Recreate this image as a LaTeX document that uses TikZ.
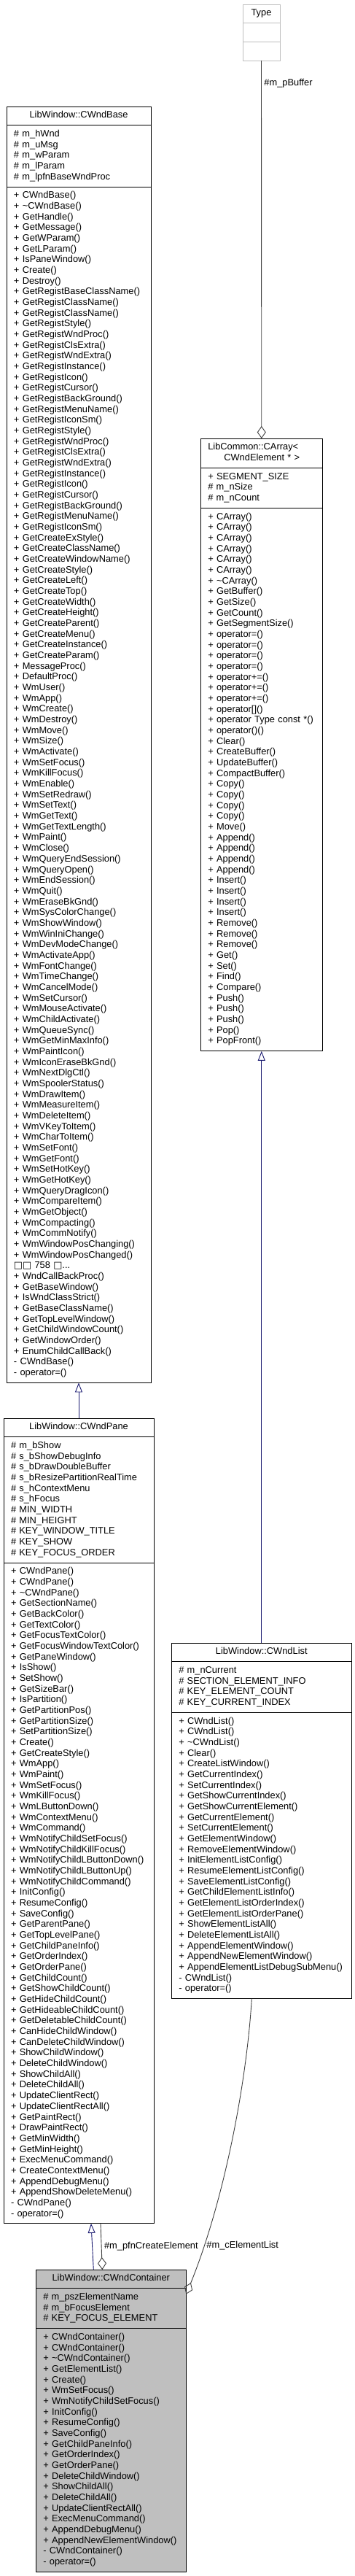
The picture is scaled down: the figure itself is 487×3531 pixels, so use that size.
\documentclass[tikz,border=0pt]{standalone}
\usepackage{fontspec}
\setmainfont{Liberation Sans}
\newfontfamily\boxfont{DejaVu Sans}
\usetikzlibrary{arrows.meta, positioning, bending}
\definecolor{midnight}{RGB}{25,25,112}
\definecolor{edgegray}{RGB}{64,64,64}
\definecolor{boxgray}{RGB}{191,191,191}
\newcommand{\umlfont}{\fontsize{12.85}{14.67}\selectfont}
\setlength{\parindent}{0pt}
\tikzset{
	clshead/.style={draw, line width=.9pt, outer sep=0pt, inner xsep=10pt, inner ysep=5.5pt,
		font=\umlfont, align=center, execute at begin node=\strut, execute at end node=\strut},
	clsbody/.style={clshead, align=left},
	inherit/.style={draw=midnight, line width=.9pt, -{Triangle[open, length=13pt, width=10pt]}},
	member/.style={draw=edgegray, line width=.9pt, -{Diamond[open, length=17pt, width=12pt]}},
	lbl/.style={font=\umlfont, inner sep=1.5pt}
}
\begin{document}
\begin{tikzpicture}[x=1pt, y=1pt]
	\useasboundingbox (0,0) rectangle (487,-3531);

	\node[clshead, draw=boxgray, text width=31pt, anchor=north west] (typehead) at (333,-6) {Type};
	\node[clshead, draw=boxgray, text width=31pt, below=0pt of typehead] (typeattr) {};
	\node[clshead, draw=boxgray, text width=31pt, below=0pt of typeattr] (typeops) {};

	\node[clsbody, text width=147pt, anchor=north west] (arrhead) at (275.3,-601) {LibCommon::CArray<\\\hspace*{22pt}CWndElement *~>};
	\node[clsbody, text width=147pt, below=0pt of arrhead] (arrattr) {+~SEGMENT\_SIZE\\\#~m\_nSize\\\#~m\_nCount};
	\node[clsbody, text width=147pt, below=0pt of arrattr] (arrops) {+~CArray()\\+~CArray()\\+~CArray()\\+~CArray()\\+~CArray()\\+~CArray()\\
		+~\textasciitilde CArray()\\+~GetBuffer()\\+~GetSize()\\+~GetCount()\\+~GetSegmentSize()\\
		+~operator=()\\+~operator=()\\+~operator=()\\+~operator=()\\+~operator+=()\\+~operator+=()\\+~operator+=()\\
		+~operator[]()\\+~operator Type const *()\\+~operator()()\\+~Clear()\\+~CreateBuffer()\\+~UpdateBuffer()\\
		+~CompactBuffer()\\+~Copy()\\+~Copy()\\+~Copy()\\+~Copy()\\+~Move()\\+~Append()\\+~Append()\\+~Append()\\+~Append()\\
		+~Insert()\\+~Insert()\\+~Insert()\\+~Insert()\\+~Remove()\\+~Remove()\\+~Remove()\\+~Get()\\+~Set()\\+~Find()\\
		+~Compare()\\+~Push()\\+~Push()\\+~Push()\\+~Pop()\\+~PopFront()};

	\node[clshead, text width=178pt, anchor=north west] (basehead) at (9,-146) {LibWindow::CWndBase};
	\node[clsbody, text width=178pt, below=0pt of basehead] (baseattr) {\#~m\_hWnd\\\#~m\_uMsg\\\#~m\_wParam\\\#~m\_lParam\\\#~m\_lpfnBaseWndProc};
	\node[clsbody, text width=178pt, below=0pt of baseattr] (baseops) {+~CWndBase()\\+~\textasciitilde CWndBase()\\+~GetHandle()\\+~GetMessage()\\
		+~GetWParam()\\+~GetLParam()\\+~IsPaneWindow()\\+~Create()\\+~Destroy()\\+~GetRegistBaseClassName()\\
		+~GetRegistClassName()\\+~GetRegistClassName()\\+~GetRegistStyle()\\+~GetRegistWndProc()\\+~GetRegistClsExtra()\\
		+~GetRegistWndExtra()\\+~GetRegistInstance()\\+~GetRegistIcon()\\+~GetRegistCursor()\\+~GetRegistBackGround()\\
		+~GetRegistMenuName()\\+~GetRegistIconSm()\\+~GetRegistStyle()\\+~GetRegistWndProc()\\+~GetRegistClsExtra()\\
		+~GetRegistWndExtra()\\+~GetRegistInstance()\\+~GetRegistIcon()\\+~GetRegistCursor()\\+~GetRegistBackGround()\\
		+~GetRegistMenuName()\\+~GetRegistIconSm()\\+~GetCreateExStyle()\\+~GetCreateClassName()\\+~GetCreateWindowName()\\
		+~GetCreateStyle()\\+~GetCreateLeft()\\+~GetCreateTop()\\+~GetCreateWidth()\\+~GetCreateHeight()\\
		+~GetCreateParent()\\+~GetCreateMenu()\\+~GetCreateInstance()\\+~GetCreateParam()\\+~MessageProc()\\
		+~DefaultProc()\\+~WmUser()\\+~WmApp()\\+~WmCreate()\\+~WmDestroy()\\+~WmMove()\\+~WmSize()\\+~WmActivate()\\
		+~WmSetFocus()\\+~WmKillFocus()\\+~WmEnable()\\+~WmSetRedraw()\\+~WmSetText()\\+~WmGetText()\\
		+~WmGetTextLength()\\+~WmPaint()\\+~WmClose()\\+~WmQueryEndSession()\\+~WmQueryOpen()\\+~WmEndSession()\\
		+~WmQuit()\\+~WmEraseBkGnd()\\+~WmSysColorChange()\\+~WmShowWindow()\\+~WmWinIniChange()\\
		+~WmDevModeChange()\\+~WmActivateApp()\\+~WmFontChange()\\+~WmTimeChange()\\+~WmCancelMode()\\
		+~WmSetCursor()\\+~WmMouseActivate()\\+~WmChildActivate()\\+~WmQueueSync()\\+~WmGetMinMaxInfo()\\
		+~WmPaintIcon()\\+~WmIconEraseBkGnd()\\+~WmNextDlgCtl()\\+~WmSpoolerStatus()\\+~WmDrawItem()\\
		+~WmMeasureItem()\\+~WmDeleteItem()\\+~WmVKeyToItem()\\+~WmCharToItem()\\+~WmSetFont()\\+~WmGetFont()\\
		+~WmSetHotKey()\\+~WmGetHotKey()\\+~WmQueryDragIcon()\\+~WmCompareItem()\\+~WmGetObject()\\
		+~WmCompacting()\\+~WmCommNotify()\\+~WmWindowPosChanging()\\+~WmWindowPosChanged()\\
		{\boxfont □□}~758~{\boxfont □}...\\+~WndCallBackProc()\\+~GetBaseWindow()\\+~IsWndClassStrict()\\
		+~GetBaseClassName()\\+~GetTopLevelWindow()\\+~GetChildWindowCount()\\+~GetWindowOrder()\\
		+~EnumChildCallBack()\\-~CWndBase()\\-~operator=()};

	\node[clshead, text width=186pt, anchor=north west] (panehead) at (5,-1944) {LibWindow::CWndPane};
	\node[clsbody, text width=186pt, below=0pt of panehead] (paneattr) {\#~m\_bShow\\\#~s\_bShowDebugInfo\\\#~s\_bDrawDoubleBuffer\\
		\#~s\_bResizePartitionRealTime\\\#~s\_hContextMenu\\\#~s\_hFocus\\\#~MIN\_WIDTH\\\#~MIN\_HEIGHT\\
		\#~KEY\_WINDOW\_TITLE\\\#~KEY\_SHOW\\\#~KEY\_FOCUS\_ORDER};
	\node[clsbody, text width=186pt, below=0pt of paneattr] (paneops) {+~CWndPane()\\+~CWndPane()\\+~\textasciitilde CWndPane()\\
		+~GetSectionName()\\+~GetBackColor()\\+~GetTextColor()\\+~GetFocusTextColor()\\+~GetFocusWindowTextColor()\\
		+~GetPaneWindow()\\+~IsShow()\\+~SetShow()\\+~GetSizeBar()\\+~IsPartition()\\+~GetPartitionPos()\\
		+~GetPartitionSize()\\+~SetPartitionSize()\\+~Create()\\+~GetCreateStyle()\\+~WmApp()\\+~WmPaint()\\
		+~WmSetFocus()\\+~WmKillFocus()\\+~WmLButtonDown()\\+~WmContextMenu()\\+~WmCommand()\\
		+~WmNotifyChildSetFocus()\\+~WmNotifyChildKillFocus()\\+~WmNotifyChildLButtonDown()\\
		+~WmNotifyChildLButtonUp()\\+~WmNotifyChildCommand()\\+~InitConfig()\\+~ResumeConfig()\\+~SaveConfig()\\
		+~GetParentPane()\\+~GetTopLevelPane()\\+~GetChildPaneInfo()\\+~GetOrderIndex()\\+~GetOrderPane()\\
		+~GetChildCount()\\+~GetShowChildCount()\\+~GetHideChildCount()\\+~GetHideableChildCount()\\
		+~GetDeletableChildCount()\\+~CanHideChildWindow()\\+~CanDeleteChildWindow()\\+~ShowChildWindow()\\
		+~DeleteChildWindow()\\+~ShowChildAll()\\+~DeleteChildAll()\\+~UpdateClientRect()\\+~UpdateClientRectAll()\\
		+~GetPaintRect()\\+~DrawPaintRect()\\+~GetMinWidth()\\+~GetMinHeight()\\+~ExecMenuCommand()\\
		+~CreateContextMenu()\\+~AppendDebugMenu()\\+~AppendShowDeleteMenu()\\-~CWndPane()\\-~operator=()};

	\node[clshead, text width=227pt, anchor=north west] (listhead) at (235.3,-2252) {LibWindow::CWndList};
	\node[clsbody, text width=227pt, below=0pt of listhead] (listattr) {\#~m\_nCurrent\\\#~SECTION\_ELEMENT\_INFO\\
		\#~KEY\_ELEMENT\_COUNT\\\#~KEY\_CURRENT\_INDEX};
	\node[clsbody, text width=227pt, below=0pt of listattr] (listops) {+~CWndList()\\+~CWndList()\\+~\textasciitilde CWndList()\\
		+~Clear()\\+~CreateListWindow()\\+~GetCurrentIndex()\\+~SetCurrentIndex()\\+~GetShowCurrentIndex()\\
		+~GetShowCurrentElement()\\+~GetCurrentElement()\\+~SetCurrentElement()\\+~GetElementWindow()\\
		+~RemoveElementWindow()\\+~InitElementListConfig()\\+~ResumeElementListConfig()\\+~SaveElementListConfig()\\
		+~GetChildElementListInfo()\\+~GetElementListOrderIndex()\\+~GetElementListOrderPane()\\
		+~ShowElementListAll()\\+~DeleteElementListAll()\\+~AppendElementWindow()\\+~AppendNewElementWindow()\\
		+~AppendElementListDebugSubMenu()\\-~CWndList()\\-~operator=()};

	\node[clshead, fill=boxgray, text width=186pt, anchor=north west] (conthead) at (49.3,-3111) {LibWindow::CWndContainer};
	\node[clsbody, fill=boxgray, text width=186pt, below=0pt of conthead] (contattr) {\#~m\_pszElementName\\
		\#~m\_bFocusElement\\\#~KEY\_FOCUS\_ELEMENT};
	\node[clsbody, fill=boxgray, text width=186pt, below=0pt of contattr] (contops) {+~CWndContainer()\\+~CWndContainer()\\
		+~\textasciitilde CWndContainer()\\+~GetElementList()\\+~Create()\\+~WmSetFocus()\\+~WmNotifyChildSetFocus()\\
		+~InitConfig()\\+~ResumeConfig()\\+~SaveConfig()\\+~GetChildPaneInfo()\\+~GetOrderIndex()\\+~GetOrderPane()\\
		+~DeleteChildWindow()\\+~ShowChildAll()\\+~DeleteChildAll()\\+~UpdateClientRectAll()\\+~ExecMenuCommand()\\
		+~AppendDebugMenu()\\+~AppendNewElementWindow()\\-~CWndContainer()\\-~operator=()};

	\draw[member] (typeops.south) -- (arrhead.north) node[lbl, pos=0.06, right=2pt] {\#m\_pBuffer};
	\draw[inherit] (listhead.north) -- (arrops.south);
	\draw[inherit] (panehead.north) -- (baseops.south);
	\draw[inherit] ([xshift=-24pt]conthead.north) -- ([xshift=17pt]paneops.south);
	\draw[member] ([xshift=30pt]paneops.south) -- ([xshift=-12pt]conthead.north) node[lbl, midway, right=2pt] {\#m\_pfnCreateElement};
	\draw[member] ([xshift=-13.5pt]listops.south) .. controls (338,-2860) and (305,-3030) .. ([yshift=-8pt]conthead.south east)
		node[lbl, pos=0.82, right=1pt] {\#m\_cElementList};
\end{tikzpicture}
\end{document}
